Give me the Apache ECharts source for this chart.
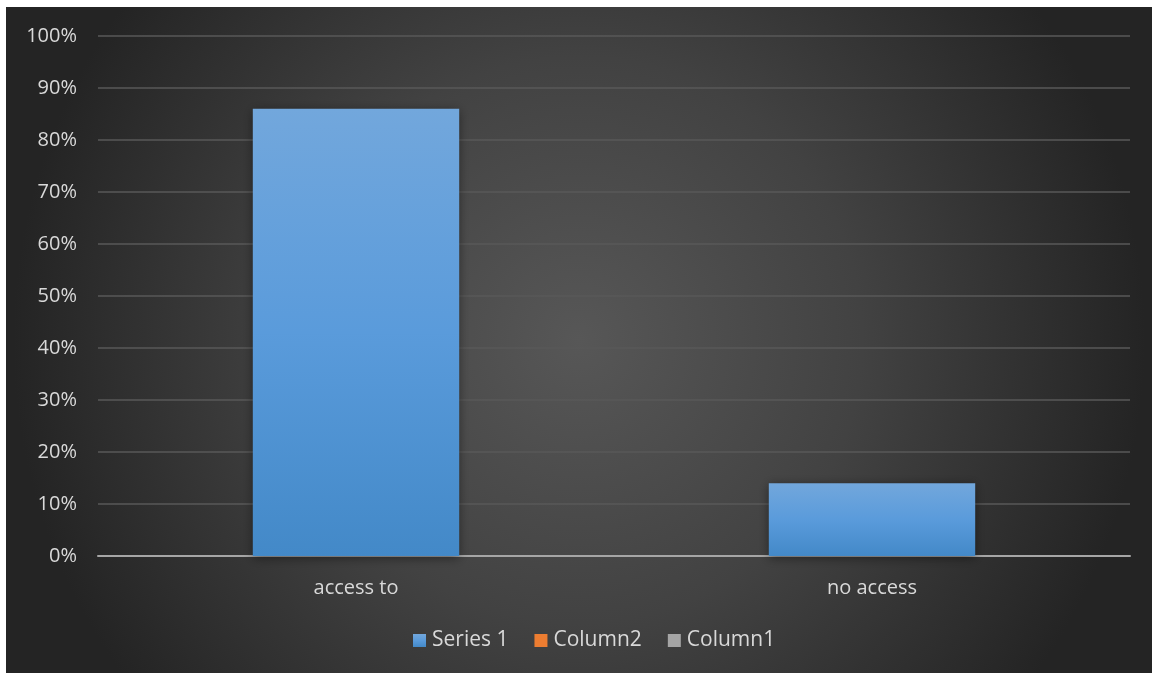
<!DOCTYPE html>
<html>
<head>
<meta charset="utf-8">
<script src="https://cdn.jsdelivr.net/npm/echarts@6/dist/echarts.min.js"></script>
<style>
  html, body { margin: 0; padding: 0; background: #ffffff; }
  #chart { width: 1152px; height: 675px; }
</style>
</head>
<body>
<div id="chart"></div>
<script>
// Share of respondents by access
const categories = ['access to', 'no access'];
const series1 = [86, 14];
const column2 = [null, null];
const column1 = [null, null];
const yTicks = [0, 10, 20, 30, 40, 50, 60, 70, 80, 90, 100];

const chart = echarts.init(document.getElementById('chart'), null, { renderer: 'canvas' });

const font = '"Open Sans", "Liberation Sans", sans-serif';

chart.setOption({
  animation: false,
  backgroundColor: '#ffffff',
  graphic: [{
    type: 'rect',
    z: -10,
    silent: true,
    shape: { x: 6, y: 7, width: 1146, height: 666 },
    style: {
      fill: new echarts.graphic.RadialGradient(0.5, 0.5, 0.85, [
        { offset: 0, color: '#575757' },
        { offset: 0.5, color: '#424242' },
        { offset: 1, color: '#242424' }
      ])
    }
  }],
  grid: { left: 98, right: 22, top: 36, bottom: 119, containLabel: false },
  legend: {
    bottom: 19,
    left: 408,
    itemWidth: 13,
    itemHeight: 13,
    itemGap: 26,
    icon: 'rect',
    textStyle: { color: '#d9d9d9', fontSize: 21, fontFamily: font, padding: [0, 0, 0, 1] },
    data: ['Series 1', 'Column2', 'Column1']
  },
  xAxis: {
    type: 'category',
    data: categories,
    axisLine: { show: true, lineStyle: { color: '#a6a6a6', width: 2 } },
    axisTick: { show: false },
    axisLabel: { color: '#d9d9d9', fontSize: 20, fontFamily: font, margin: 22 }
  },
  yAxis: {
    type: 'value',
    min: yTicks[0],
    max: yTicks[yTicks.length - 1],
    interval: 10,
    axisLine: { show: false },
    axisTick: { show: false },
    splitLine: { lineStyle: { color: '#585858', width: 1.5 } },
    axisLabel: { color: '#d9d9d9', fontSize: 20, fontFamily: font, margin: 21, formatter: '{value}%' }
  },
  series: [
    {
      name: 'Series 1',
      type: 'bar',
      stack: 'all',
      barWidth: '40%',
      data: series1,
      itemStyle: {
        color: new echarts.graphic.LinearGradient(0, 0, 0, 1, [
          { offset: 0, color: '#72a7dc' },
          { offset: 0.5, color: '#5a9bdb' },
          { offset: 1, color: '#4389c8' }
        ]),
        shadowColor: 'rgba(0,0,0,0.45)',
        shadowBlur: 10,
        shadowOffsetY: 2
      }
    },
    {
      name: 'Column2',
      type: 'bar',
      stack: 'all',
      data: column2,
      itemStyle: { color: '#ed7d31' }
    },
    {
      name: 'Column1',
      type: 'bar',
      stack: 'all',
      data: column1,
      itemStyle: { color: '#a5a5a5' }
    }
  ]
});
</script>
</body>
</html>
